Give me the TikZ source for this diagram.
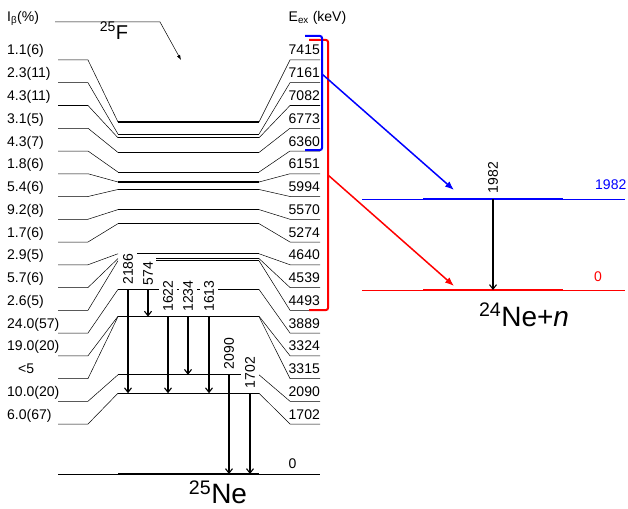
\documentclass[tikz,border=0pt]{standalone}
\usepackage{fontspec}
\setmainfont{Liberation Sans}
\usetikzlibrary{arrows.meta}

\tikzset{
  stub/.style={line width=0.5pt},
  lvl/.style={line width=1.1pt},
  ibox/.style={anchor=base west, inner sep=0pt},
  exbox/.style={anchor=base west, inner sep=0pt},
  gamlab/.style={rotate=90, fill=white, inner xsep=1pt, inner ysep=4pt},
  gam/.style={line width=1.1pt, -{Straight Barb[length=4.5pt,width=7pt]}},
  bigname/.style={anchor=base, inner sep=0pt, font=\fontsize{28}{30}\selectfont},
  brk/.style={line width=2pt, rounded corners=2pt},
  feed/.style={line width=1.5pt, -{Latex[length=9pt,width=7pt]}},
}

\begin{document}
\begin{tikzpicture}[x=1pt, y=-1pt, font=\fontsize{14}{16}\selectfont]
    \useasboundingbox (0,0) rectangle (628,508);

    % column heads
    \node[ibox] (ibhead) at (7,21.5) {I\textsubscript{β}(\%)};
    \node[exbox] (exhead) at (288.5,21.5) {E\textsubscript{ex} (keV)};

    % parent 25F
    \node[bigname, font=\fontsize{20}{22}\selectfont] (F25) at (114,39.5) {\textsuperscript{25}F};
    \coordinate (pA) at (55,22);
    \coordinate (pB) at (160,22);
    \coordinate (pC) at (181,60);
    \draw[stub, -{Latex[length=5pt,width=3.5pt]}] (pA) -- (pB) -- (pC);

    % levels of 25Ne
    \foreach \i/\ib/\ex/\xs in {
        1/1.1(6)/7415/118, 2/2.3(11)/7161/118, 3/4.3(11)/7082/118,
        4/3.1(5)/6773/118, 5/4.3(7)/6360/118, 6/1.8(6)/6151/118,
        7/5.4(6)/5994/118, 8/9.2(8)/5570/118, 9/1.7(6)/5274/118,
        10/2.9(5)/4640/137, 11/5.7(6)/4539/156, 12/2.6(5)/4493/156,
        13/24.0(57)/3889/118, 14/19.0(20)/3324/118, 15/{\hspace*{11pt}<5}/3315/118,
        16/10.0(20)/2090/118, 17/6.0(67)/1702/118} {
        \pgfmathsetmacro\yb{55+22.75*(\i-1)}
        \pgfmathsetmacro\ys{\yb+5}
        \pgfmathsetmacro\ym{474-0.047472*\ex}
        \node[ibox] (ib\i) at (7,\yb) {\ib};
        \node[exbox] (ex\i) at (288.5,\yb) {\ex};
        \coordinate (m\ex) at (259,\ym);
        \draw[stub] (58,\ys) -- (88,\ys) -- (118,\ym);
        \draw[lvl] (\xs,\ym) -- (m\ex);
        \draw[stub] (m\ex) -- (290,\ys) -- (320,\ys);
    }

    % ground state
    \coordinate (m0) at (259,474);
    \draw[stub] (58,474) -- (320,474);
    \draw[lvl] (118,474) -- (m0);
    \node[exbox] (ex0) at (288.5,468.5) {0};
    \node[bigname] (Ne25) at (218,503.5) {\textsuperscript{25}Ne};

    % gamma rays
    \node[gamlab] (g2186) at (128,269) {2186};
    \node[gamlab] (g574) at (148,273.5) {574};
    \node[gamlab] (g1622) at (168,296) {1622};
    \node[gamlab] (g1234) at (188,296) {1234};
    \node[gamlab] (g1613) at (209,296) {1613};
    \node[gamlab] (g2090) at (229,353.5) {2090};
    \node[gamlab] (g1702) at (250,372.5) {1702};

    \draw[gam] (g2186 |- m3889) -- (g2186 |- m1702);
    \draw[gam] (g574 |- m3889) -- (g574 |- m3315);
    \draw[gam] (g1622 |- m3324) -- (g1622 |- m1702);
    \draw[gam] (g1234 |- m3324) -- (g1234 |- m2090);
    \draw[gam] (g1613 |- m3315) -- (g1613 |- m1702);
    \draw[gam] (g2090 |- m2090) -- (g2090 |- m0);
    \draw[gam] (g1702 |- m1702) -- (g1702 |- m0);

    % 24Ne + n
    \coordinate (n1982w) at (362,199);
    \coordinate (n1982e) at (625,199);
    \coordinate (n0w) at (362,290);
    \coordinate (n0e) at (625,290);
    \draw[blue, line width=0.6pt] (n1982w) -- (n1982e);
    \draw[blue, line width=1.4pt] (423,199) -- (563,199);
    \draw[red, line width=0.6pt] (n0w) -- (n0e);
    \draw[red, line width=1.4pt] (423,290) -- (563,290);
    \node[exbox, text=blue] (e1982) at (595,189) {1982};
    \node[exbox, text=red] (e0) at (594,281) {0};
    \node[gamlab] (g1982) at (493,177.5) {1982};
    \draw[gam] (g1982 |- n1982w) -- (g1982 |- n0w);
    \node[bigname] (Ne24) at (524,326) {\textsuperscript{24}Ne+\textit{n}};

    % feeding brackets
    \draw[red, brk] (309,40) -- (328,40) -- (328,310) -- (309,310);
    \draw[blue, brk] (305,36) -- (322,36) -- (322,150) -- (305,150);
    \coordinate (bq) at (322,74);
    \coordinate (rq) at (328,175);
    \coordinate (tb) at (454,190);
    \coordinate (tr) at (454,286);
    \draw[blue, feed] (bq) -- (tb);
    \draw[red, feed] (rq) -- (tr);
\end{tikzpicture}
\end{document}
